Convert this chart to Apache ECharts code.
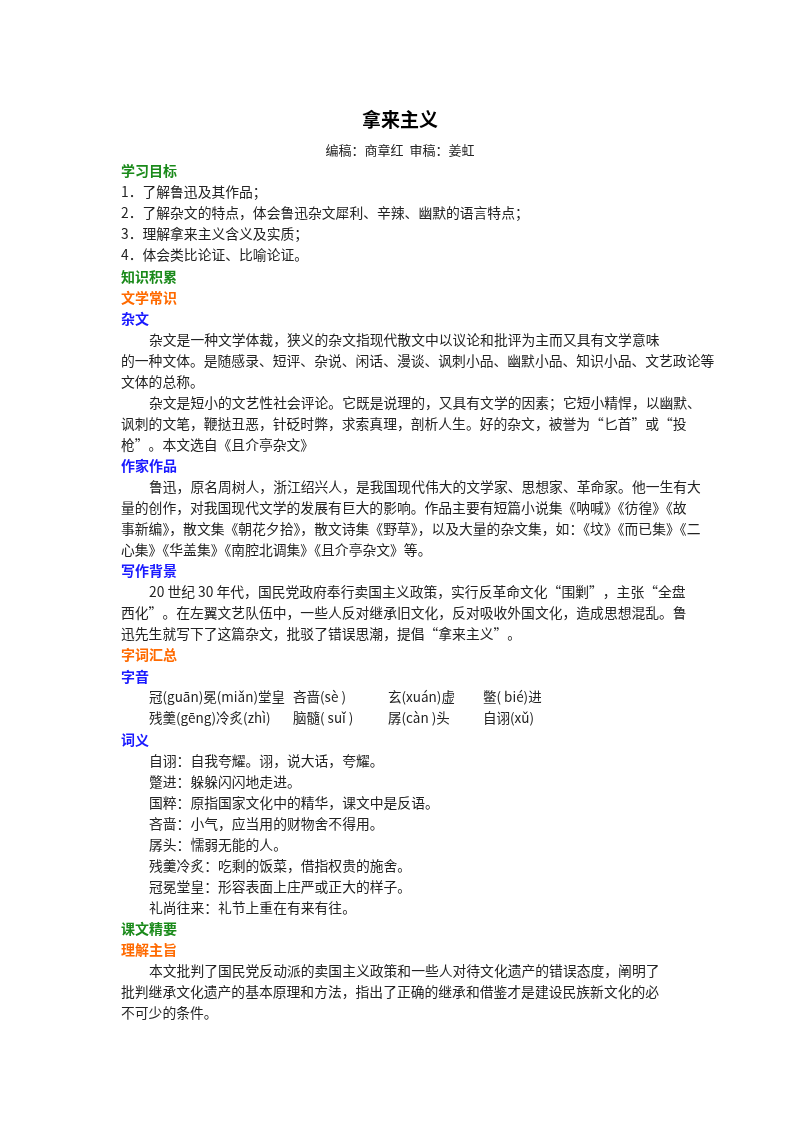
<!DOCTYPE html>
<html><head><meta charset="utf-8">
<script src="https://cdn.jsdelivr.net/npm/echarts@6/dist/echarts.min.js"></script>
<style>html,body{margin:0;padding:0;background:#fff}#c{width:800px;height:1132px}</style>
</head><body><div id="c"></div>
<script>
const title = "拿来主义";
const subtitle = "编稿：商章红  审稿：姜虹";
// kind: g=green heading, o=orange heading, b=blue heading, t=plain, p=indented paragraph, y=pinyin row
const lines = [
 ["g","学习目标"],
 ["t","1．了解鲁迅及其作品；"],
 ["t","2．了解杂文的特点，体会鲁迅杂文犀利、辛辣、幽默的语言特点；"],
 ["t","3．理解拿来主义含义及实质；"],
 ["t","4．体会类比论证、比喻论证。"],
 ["g","知识积累"],
 ["o","文学常识"],
 ["b","杂文"],
 ["p","杂文是一种文学体裁，狭义的杂文指现代散文中以议论和批评为主而又具有文学意味"],
 ["t","的一种文体。是随感录、短评、杂说、闲话、漫谈、讽刺小品、幽默小品、知识小品、文艺政论等"],
 ["t","文体的总称。"],
 ["p","杂文是短小的文艺性社会评论。它既是说理的，又具有文学的因素；它短小精悍，以幽默、"],
 ["t","讽刺的文笔，鞭挞丑恶，针砭时弊，求索真理，剖析人生。好的杂文，被誉为“匕首”或“投"],
 ["t","枪”。本文选自《且介亭杂文》"],
 ["b","作家作品"],
 ["p","鲁迅，原名周树人，浙江绍兴人，是我国现代伟大的文学家、思想家、革命家。他一生有大"],
 ["t","量的创作，对我国现代文学的发展有巨大的影响。作品主要有短篇小说集《呐喊》《彷徨》《故"],
 ["t","事新编》，散文集《朝花夕拾》，散文诗集《野草》，以及大量的杂文集，如：《坟》《而已集》《二"],
 ["t","心集》《华盖集》《南腔北调集》《且介亭杂文》等。"],
 ["b","写作背景"],
 ["p","20 世纪 30 年代，国民党政府奉行卖国主义政策，实行反革命文化“围剿”，主张“全盘"],
 ["t","西化”。在左翼文艺队伍中，一些人反对继承旧文化，反对吸收外国文化，造成思想混乱。鲁"],
 ["t","迅先生就写下了这篇杂文，批驳了错误思潮，提倡“拿来主义”。"],
 ["o","字词汇总"],
 ["b","字音"],
 ["y","冠(guān)冕(miǎn)堂皇|吝啬(sè )|玄(xuán)虚|鳖( bié)进"],
 ["y","残羹(gēng)冷炙(zhì)|脑髓( suǐ )|孱(càn )头|自诩(xǔ)"],
 ["b","词义"],
 ["p","自诩：自我夸耀。诩，说大话，夸耀。"],
 ["p","蹩进：躲躲闪闪地走进。"],
 ["p","国粹：原指国家文化中的精华，课文中是反语。"],
 ["p","吝啬：小气，应当用的财物舍不得用。"],
 ["p","孱头：懦弱无能的人。"],
 ["p","残羹冷炙：吃剩的饭菜，借指权贵的施舍。"],
 ["p","冠冕堂皇：形容表面上庄严或正大的样子。"],
 ["p","礼尚往来：礼节上重在有来有往。"],
 ["g","课文精要"],
 ["o","理解主旨"],
 ["p","本文批判了国民党反动派的卖国主义政策和一些人对待文化遗产的错误态度，阐明了"],
 ["t","批判继承文化遗产的基本原理和方法，指出了正确的继承和借鉴才是建设民族新文化的必"],
 ["t","不可少的条件。"]
];
const colors = {g:"#1a8a1a", o:"#ff6a00", b:"#1a1aff"};
const font = '"Noto Sans CJK SC", "Noto Sans", sans-serif';
const left = 121, indent = 149, top0 = 171, step = 21.05;
const pinCols = [149, 293, 388, 483];
const g = [
 {type:'text', left:'center', top:110, style:{text:title, font:'bold 19px '+font, fill:'#000'}},
 {type:'text', left:'center', top:144, style:{text:subtitle, font:'13px '+font, fill:'#222'}}
];
lines.forEach(([k,t],i)=>{
  const y = top0 + i*step;
  if (k==='y') {
    t.split('|').forEach((s,j)=>g.push({type:'text', x:pinCols[j], y:y, style:{text:s, font:'13.5px '+font, fill:'#222', textVerticalAlign:'middle'}}));
    return;
  }
  const head = colors[k];
  g.push({type:'text', x: k==='p'?indent:left, y:y,
    style:{text:t, font:(head?'bold 14px ':'13.8px ')+font, fill: head||'#222', textVerticalAlign:'middle'}});
});
const chart = echarts.init(document.getElementById('c'));
chart.setOption({backgroundColor:'#fff', graphic:g});
</script></body></html>
